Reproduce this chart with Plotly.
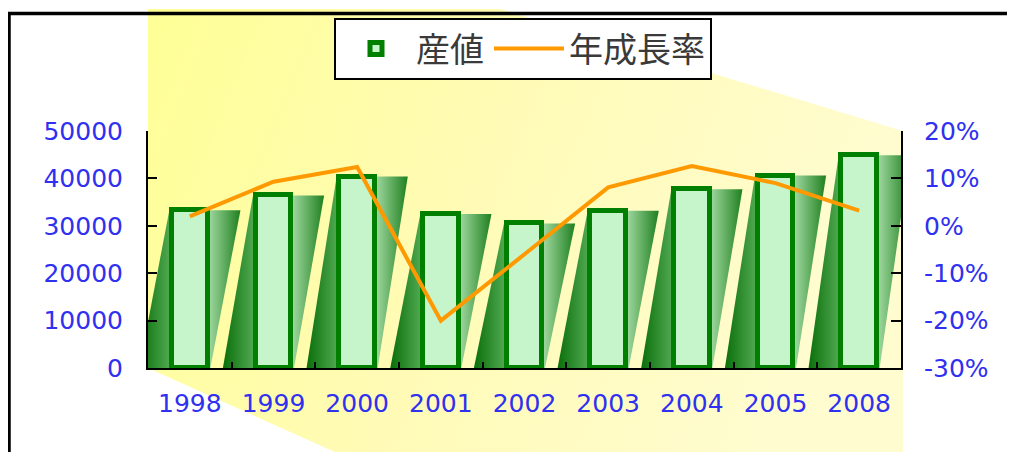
import base64
import plotly.graph_objects as go

######### DATA #########
years = ['1998', '1999', '2000', '2001', '2002', '2003', '2004', '2005', '2008']
output_value = [33300, 36400, 40400, 32500, 30500, 33200, 37700, 40600, 44900]
growth_rate = [0.020, 0.093, 0.124, -0.200, -0.060, 0.081, 0.126, 0.090, 0.032]
value_ticks = [0, 10000, 20000, 30000, 40000, 50000]
value_labels = ['0', '10000', '20000', '30000', '40000', '50000']
rate_ticks = [-0.3, -0.2, -0.1, 0.0, 0.1, 0.2]
rate_labels = ['-30%', '-20%', '-10%', '0%', '10%', '20%']

######### LAYOUT CONSTANTS #########
W, H = 1015, 452
OFF = 8                      # page body margin of the html page
PW, PH = 753, 237            # plot area size
L, T = 148 - OFF, 131 - OFF
R, B = W - L - PW, H - T - PH
BAR_W = 0.43      # width of the front bar (category units)
HALF = 0.245      # half width incl. outline
SKEW = 0.36       # horizontal shift of the slanted back face
TICK_FONT = dict(family='DejaVu Sans', size=25, color='#3030f0')

idx = list(range(len(years)))

# background: slanted yellow panel + frame, as inline svg (page pixel coords)
svg = f'''<svg xmlns="http://www.w3.org/2000/svg" width="{W}" height="{H}" viewBox="0 0 {W} {H}">
<defs><linearGradient id="g" x1="0" y1="0" x2="1" y2="0.25">
<stop offset="0" stop-color="#ffff96"/><stop offset="0.5" stop-color="#fffbb6"/>
<stop offset="1" stop-color="#fffcd0"/></linearGradient></defs>
<g transform="translate(-{OFF},-{OFF})">
<polygon points="148,9 500,9 903,131 903,470 375,470 148,368" fill="url(#g)"/>
<polyline points="9,470 9,13.5 1030,13.5" fill="none" stroke="black" stroke-width="3.5"/>
</g></svg>'''
bg_src = 'data:image/svg+xml;base64,' + base64.b64encode(svg.encode()).decode()

fig = go.Figure()

# slanted back faces of the bars
shadow_scale = [[0, '#0a6e0a'], [0.3, '#4fa84f'], [0.5, '#c6f2c6'],
                [0.7, '#9ad49a'], [1, '#1f801f']]
for i, v in zip(idx, output_value):
    fig.add_trace(go.Scatter(
        x=[i - HALF - SKEW, i + HALF, i + HALF + SKEW, i - HALF, i - HALF - SKEW],
        y=[0, 0, v, v, 0],
        mode='lines', line=dict(width=0), fill='toself',
        fillgradient=dict(type='horizontal', colorscale=shadow_scale),
        showlegend=False, hoverinfo='skip', xaxis='x', yaxis='y'))

# front bars
fig.add_trace(go.Bar(
    x=idx, y=output_value, width=BAR_W, name='産値',
    marker=dict(color='#c6f5cc', line=dict(color='#007f00', width=5)),
    xaxis='x', yaxis='y2'))

# growth line
fig.add_trace(go.Scatter(
    x=idx, y=growth_rate, name='年成長率', mode='lines',
    line=dict(color='#ff9900', width=4),
    xaxis='x', yaxis='y3'))

fig.update_layout(
    width=W, height=H, autosize=False,
    margin=dict(l=L, r=R, t=T, b=B, autoexpand=False),
    paper_bgcolor='white', plot_bgcolor='rgba(0,0,0,0)',
    bargap=0,
    xaxis=dict(range=[-0.5, 8.5], tickmode='array', tickvals=idx, ticktext=years,
               ticks='', showgrid=False, zeroline=False,
               showline=True, linecolor='black', linewidth=2,
               tickfont=TICK_FONT, ticklabelstandoff=12,
               minor=dict(tickmode='array', tickvals=[i + 0.5 for i in idx[:-1]],
                          ticks='inside', ticklen=6, tickcolor='black', tickwidth=1.5)),
    yaxis=dict(range=[0, 50000], tickmode='array', tickvals=value_ticks, ticktext=value_labels,
               ticks='inside', ticklen=9, tickcolor='black', tickwidth=2,
               showline=True, linecolor='black', linewidth=2,
               showgrid=False, zeroline=False,
               tickfont=TICK_FONT, ticklabelstandoff=18),
    yaxis2=dict(range=[0, 50000], overlaying='y', visible=False),
    yaxis3=dict(range=[-0.3, 0.2], overlaying='y', side='right',
                tickmode='array', tickvals=rate_ticks, ticktext=rate_labels,
                ticks='inside', ticklen=10, tickcolor='black', tickwidth=2,
                showline=True, linecolor='black', linewidth=2,
                showgrid=False, zeroline=False,
                tickfont=TICK_FONT, ticklabelstandoff=16),
    legend=dict(orientation='h', x=(523 - OFF - L) / PW, y=1 + (T - (18 - OFF)) / PH,
                xanchor='center', yanchor='top',
                bgcolor='white', bordercolor='black', borderwidth=2,
                font=dict(family='Noto Sans CJK JP', size=34, color='#3a3a3a'),
                itemwidth=70),
    images=[dict(source=bg_src, xref='paper', yref='paper',
                 x=-L / PW, y=1 + T / PH, sizex=W / PW, sizey=H / PH,
                 xanchor='left', yanchor='top', sizing='stretch', layer='below')],
)

fig.write_html('out.html')
